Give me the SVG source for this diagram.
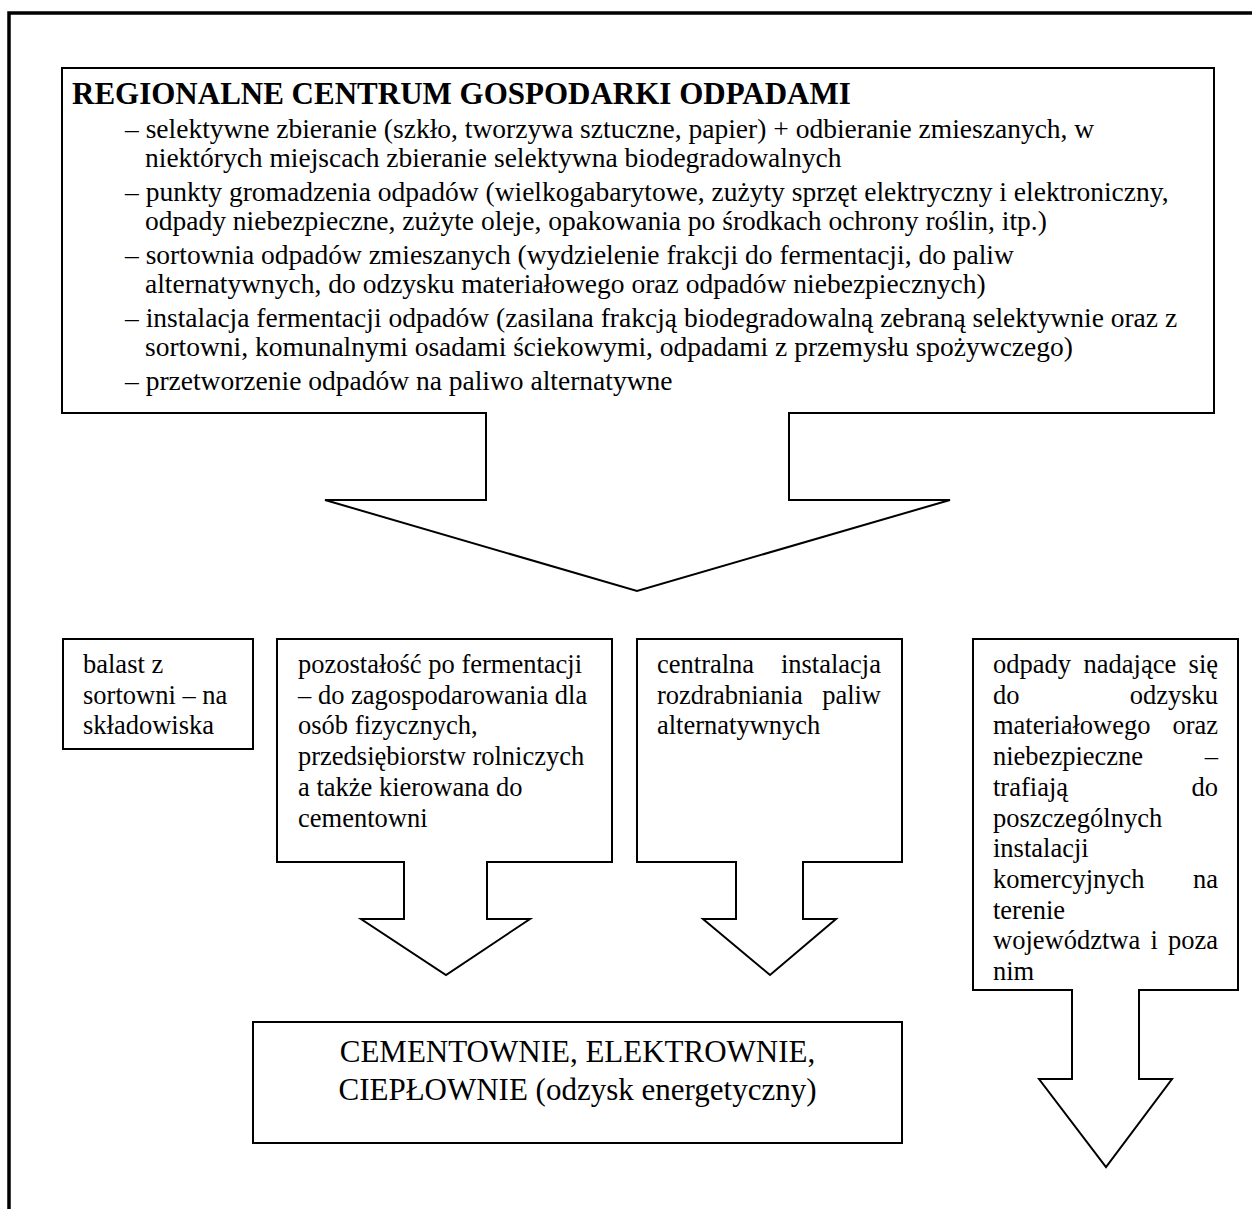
<svg xmlns="http://www.w3.org/2000/svg" width="1252" height="1209" viewBox="0 0 1252 1209">
<style>
.frame{fill:none;stroke:#000;stroke-width:3.5}
.box{fill:#fff;stroke:#000;stroke-width:2}
.arr{fill:#fff;stroke:#000;stroke-width:2;stroke-linejoin:miter}
text{font-family:"Liberation Serif","Times New Roman",serif;fill:#000}
.title{font-size:31px;font-weight:bold}
.t{font-size:27.5px}
.b{font-size:26.5px}
.e{font-size:31px;text-anchor:middle}
.r{text-anchor:end}
</style>
<rect width="1252" height="1209" fill="#fff"/>
<path class="frame" d="M9,1209 V13 H1252"/>
<g id="nodes">
<g id="rcgo">
<rect class="box" x="62" y="68" width="1152" height="345"/>
<text class="title" x="72" y="104">REGIONALNE CENTRUM GOSPODARKI ODPADAMI</text>
<text class="t" x="125" y="138">– selektywne zbieranie (szkło, tworzywa sztuczne, papier) + odbieranie zmieszanych, w</text>
<text class="t" x="145" y="167">niektórych miejscach zbieranie selektywna biodegradowalnych</text>
<text class="t" x="125" y="201">– punkty gromadzenia odpadów (wielkogabarytowe, zużyty sprzęt elektryczny i elektroniczny,</text>
<text class="t" x="145" y="230">odpady niebezpieczne, zużyte oleje, opakowania po środkach ochrony roślin, itp.)</text>
<text class="t" x="125" y="264">– sortownia odpadów zmieszanych (wydzielenie frakcji do fermentacji, do paliw</text>
<text class="t" x="145" y="293">alternatywnych, do odzysku materiałowego oraz odpadów niebezpiecznych)</text>
<text class="t" x="125" y="327">– instalacja fermentacji odpadów (zasilana frakcją biodegradowalną zebraną selektywnie oraz z</text>
<text class="t" x="145" y="356">sortowni, komunalnymi osadami ściekowymi, odpadami z przemysłu spożywczego)</text>
<text class="t" x="125" y="390">– przetworzenie odpadów na paliwo alternatywne</text>
</g>
<g id="balast">
<rect class="box" x="63" y="639" width="190" height="110"/>
<text class="b" x="83" y="673">balast z</text>
<text class="b" x="83" y="703.7">sortowni – na</text>
<text class="b" x="83" y="734.4">składowiska</text>
</g>
<g id="pozostalosc">
<rect class="box" x="277" y="639" width="335" height="223"/>
<text class="b" x="298" y="673">pozostałość po fermentacji</text>
<text class="b" x="298" y="703.7">– do zagospodarowania dla</text>
<text class="b" x="298" y="734.4">osób fizycznych,</text>
<text class="b" x="298" y="765.1">przedsiębiorstw rolniczych</text>
<text class="b" x="298" y="795.8">a także kierowana do</text>
<text class="b" x="298" y="826.5">cementowni</text>
</g>
<g id="rozdrabnianie">
<rect class="box" x="637" y="639" width="265" height="223"/>
<text class="b" x="657" y="673">centralna</text><text class="b r" x="881" y="673">instalacja</text>
<text class="b" x="657" y="703.7">rozdrabniania</text><text class="b r" x="881" y="703.7">paliw</text>
<text class="b" x="657" y="734.4">alternatywnych</text>
</g>
<g id="odzysk-materialowy">
<rect class="box" x="973" y="639" width="265" height="351"/>
<text class="b" x="993" y="673">odpady</text><text class="b" x="1083.5" y="673">nadające</text><text class="b r" x="1218" y="673">się</text>
<text class="b" x="993" y="703.7">do</text><text class="b r" x="1218" y="703.7">odzysku</text>
<text class="b" x="993" y="734.4">materiałowego</text><text class="b r" x="1218" y="734.4">oraz</text>
<text class="b" x="993" y="765.1">niebezpieczne</text><text class="b r" x="1218" y="765.1">–</text>
<text class="b" x="993" y="795.8">trafiają</text><text class="b r" x="1218" y="795.8">do</text>
<text class="b" x="993" y="826.5">poszczególnych</text>
<text class="b" x="993" y="857.2">instalacji</text>
<text class="b" x="993" y="887.9">komercyjnych</text><text class="b r" x="1218" y="887.9">na</text>
<text class="b" x="993" y="918.6">terenie</text>
<text class="b" x="993" y="949.3">województwa</text><text class="b" x="1150.4" y="949.3">i</text><text class="b r" x="1218" y="949.3">poza</text>
<text class="b" x="993" y="980">nim</text>
</g>
<g id="cementownie">
<rect class="box" x="253" y="1022" width="649" height="121"/>
<text class="e" x="577.5" y="1062">CEMENTOWNIE, ELEKTROWNIE,</text>
<text class="e" x="577.5" y="1100">CIEPŁOWNIE (odzysk energetyczny)</text>
</g>
</g>
<g id="connectors">
<path class="arr" d="M486,412 V500 H325 L637,591 L950,500 H789 V412"/>
<path class="arr" d="M404,861 V919 H361 L446,975 L530,919 H487 V861"/>
<path class="arr" d="M736,861 V919 H703 L770,975 L836,919 H803 V861"/>
<path class="arr" d="M1072,989 V1079 H1039 L1106,1167 L1172,1079 H1139 V989"/>
</g>
</svg>
